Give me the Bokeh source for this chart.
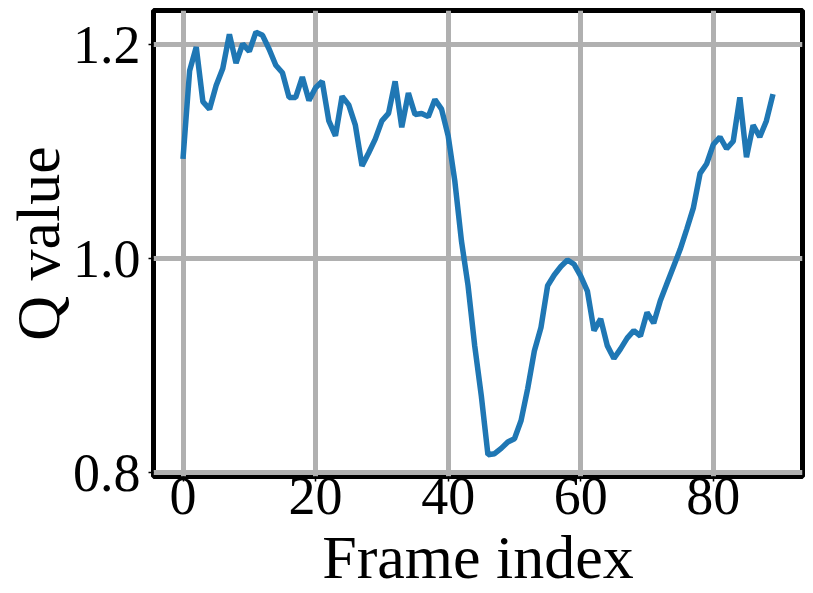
from bokeh.plotting import figure
from bokeh.models import Range1d, FixedTicker, PrintfTickFormatter, ColumnDataSource
from bokeh.embed import file_html
from bokeh.resources import INLINE

frame_index = list(range(90))
q_value = [
    1.0935, 1.176, 1.198, 1.147, 1.140, 1.162, 1.178, 1.210, 1.183, 1.201,
    1.194, 1.212, 1.209, 1.196, 1.181, 1.174, 1.151, 1.151, 1.170, 1.148,
    1.160, 1.166, 1.129, 1.115, 1.152, 1.144, 1.125, 1.087, 1.099, 1.112,
    1.129, 1.136, 1.166, 1.123, 1.155, 1.135, 1.136, 1.133, 1.149, 1.140,
    1.115, 1.073, 1.017, 0.975, 0.919, 0.872, 0.817, 0.818, 0.823, 0.829,
    0.832, 0.849, 0.879, 0.914, 0.936, 0.975, 0.985, 0.993, 0.999, 0.995,
    0.984, 0.970, 0.933, 0.944, 0.919, 0.907, 0.916, 0.926, 0.933, 0.928,
    0.950, 0.940, 0.961, 0.977, 0.993, 1.009, 1.028, 1.048, 1.080, 1.089,
    1.107, 1.114, 1.103, 1.110, 1.151, 1.095, 1.125, 1.114, 1.129, 1.154,
]
x_ticks = [0, 20, 40, 60, 80]
y_ticks = [0.8, 1.0, 1.2]
x_label = "Frame index"
y_label = "Q value"

src = ColumnDataSource(dict(x=frame_index, y=q_value))

FONT = "Liberation Serif"

p = figure(
    frame_width=649, frame_height=466,
    min_border_left=146, min_border_right=6, min_border_top=10, min_border_bottom=0,
    x_range=Range1d(-4.45, 93.45), y_range=Range1d(0.7967, 1.2322),
    output_backend="svg", toolbar_location=None,
)
p.line("x", "y", source=src, line_color="#1f77b4", line_width=5.5)

p.outline_line_color = "black"
p.outline_line_width = 5
p.outline_line_alpha = 1.0

p.xaxis.ticker = FixedTicker(ticks=x_ticks)
p.yaxis.ticker = FixedTicker(ticks=y_ticks)
p.yaxis.formatter = PrintfTickFormatter(format="%.1f")

for ax in (p.xaxis, p.yaxis):
    ax.axis_line_color = None
    ax.major_tick_line_color = "black"
    ax.major_tick_line_width = 1.5
    ax.major_tick_in = 0
    ax.major_tick_out = 5
    ax.minor_tick_line_color = None
    ax.major_label_text_font = FONT
    ax.major_label_text_font_size = "54px"
    ax.major_label_text_color = "black"
    ax.axis_label_text_font = FONT
    ax.axis_label_text_font_size = "62px"
    ax.axis_label_text_font_style = "normal"
    ax.axis_label_text_color = "black"

p.xaxis.axis_label = x_label
p.yaxis.axis_label = y_label
p.xaxis.major_label_standoff = -4
p.xaxis.axis_label_standoff = 6
p.yaxis.major_label_standoff = 8
p.yaxis.axis_label_standoff = -2

p.xgrid.grid_line_color = "#b0b0b0"
p.ygrid.grid_line_color = "#b0b0b0"
p.xgrid.grid_line_width = 5
p.ygrid.grid_line_width = 5
p.background_fill_color = "white"
p.border_fill_color = "white"

open("out.html", "w").write(file_html(p, INLINE))
